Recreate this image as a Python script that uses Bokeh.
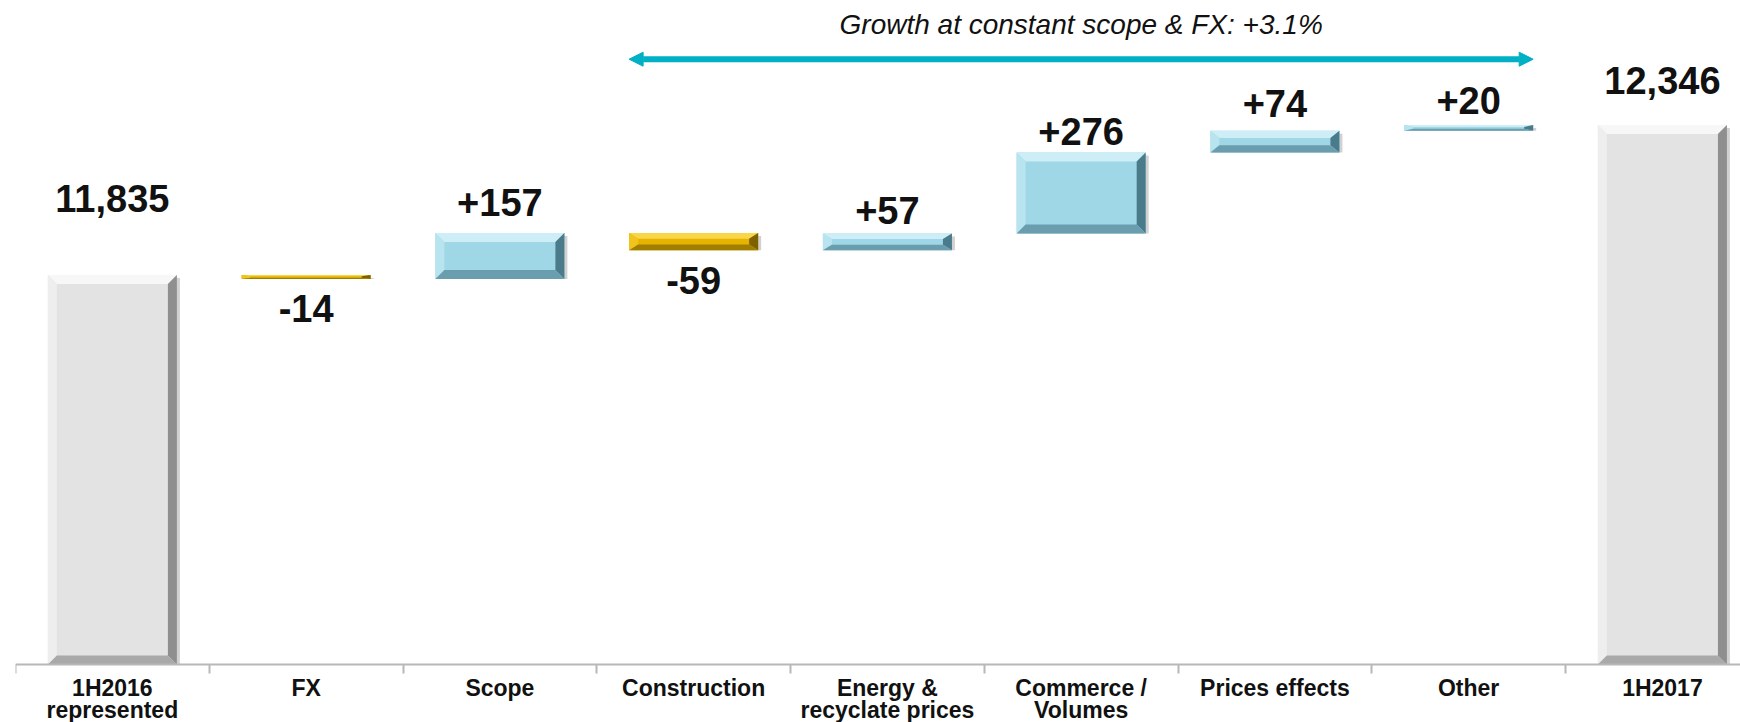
import numpy as np
from bokeh.plotting import figure
from bokeh.models import Range1d, FixedTicker, Arrow, NormalHead, Label
from bokeh.core.properties import value
from bokeh.embed import file_html
from bokeh.resources import INLINE

# ---- data ----
categories = ["1H2016\nrepresented", "FX", "Scope", "Construction", "Energy &\nrecyclate prices",
              "Commerce /\nVolumes", "Prices effects", "Other", "1H2017"]
start_total = 11835
deltas = [-14, 157, -59, 57, 276, 74, 20]
end_total = 12346
value_labels = ["11,835", "-14", "+157", "-59", "+57", "+276", "+74", "+20", "12,346"]
growth_text = "Growth at constant scope & FX: +3.1%"

Y_BASE = 10508          # value at which the category axis sits
Y_MAX = 12770
PX_PER_UNIT = 0.2935
Y_MIN = Y_MAX - 722 / PX_PER_UNIT   # frame spans full canvas height

# ---- waterfall geometry from data ----
n = len(categories)
xs = np.arange(n)
bottoms, tops, kinds = [Y_BASE], [start_total], ["total"]
run = start_total
for d in deltas:
    lo, hi = (run, run + d) if d >= 0 else (run + d, run)
    bottoms.append(lo); tops.append(hi); kinds.append("up" if d >= 0 else "down")
    run += d
bottoms.append(Y_BASE); tops.append(end_total); kinds.append("total")
bottoms = np.array(bottoms, dtype=float); tops = np.array(tops, dtype=float)

palette = {
    "total": dict(face="#e3e3e3", top="#f7f7f7", left="#eeeeee", right="#8f8f8f", bottom="#a9a9a9"),
    "up":    dict(face="#9fd7e6", top="#cdeef6", left="#b8e4ef", right="#4a7b8a", bottom="#6a9dad"),
    "down":  dict(face="#e6b400", top="#f8d648", left="#f0c41c", right="#7d6000", bottom="#a07f00"),
}

p = figure(width=1740, height=722, x_range=Range1d(-0.5, 8.403), y_range=Range1d(Y_MIN, Y_MAX),
           output_backend="svg", toolbar_location=None, y_axis_location=None,
           min_border_left=15, min_border_right=0, min_border_top=0, min_border_bottom=0,
           outline_line_color=None, background_fill_color="white", border_fill_color="white")
p.xgrid.visible = False
p.ygrid.visible = False

half = 0.333
px_x = 1.0 / 193.7          # data units per pixel (x)
px_y = 1.0 / PX_PER_UNIT    # data units per pixel (y)

# shadows
p.quad(left=xs - half + 3 * px_x, right=xs + half + 3 * px_x, bottom=bottoms, top=tops - 3 * px_y,
       fill_color="#000000", fill_alpha=0.18, line_color=None)

for i in range(n):
    c = palette[kinds[i]]
    x0, x1 = xs[i] - half, xs[i] + half
    y0, y1 = bottoms[i], tops[i]
    h = y1 - y0
    dx = 9 * px_x
    dy = min(9 * px_y, h / 3.0)
    p.quad(left=[x0], right=[x1], bottom=[y0], top=[y1], fill_color=c["face"], line_color=None)
    p.patch([x0, x1, x1 - dx, x0 + dx], [y1, y1, y1 - dy, y1 - dy], fill_color=c["top"], line_color=None)
    p.patch([x0, x0 + dx, x0 + dx, x0], [y1, y1 - dy, y0 + dy, y0], fill_color=c["left"], line_color=None)
    p.patch([x1, x1 - dx, x1 - dx, x1], [y1, y1 - dy, y0 + dy, y0], fill_color=c["right"], line_color=None)
    p.patch([x0, x1, x1 - dx, x0 + dx], [y0, y0, y0 + dy, y0 + dy], fill_color=c["bottom"], line_color=None)

# value labels
label_dy = [-76, 29, -30, 30, -23, -21, -27, -24, -44]
for i in range(n):
    anchor = tops[i] if label_dy[i] < 0 else bottoms[i]
    p.text(x=[xs[i]], y=[anchor], text=[value_labels[i]], y_offset=label_dy[i],
           text_align="center", text_baseline="middle", text_font=value("Liberation Sans"),
           text_font_style="bold", text_font_size="38px", text_color="#111111")

# growth arrow + text
p.add_layout(Arrow(x_start=3 - half, x_end=7 + half, y_start=12570, y_end=12570,
                   line_color="#00b0c4", line_width=6,
                   start=NormalHead(size=14, fill_color="#00b0c4", line_color="#00b0c4"),
                   end=NormalHead(size=14, fill_color="#00b0c4", line_color="#00b0c4")))
p.add_layout(Label(x=5.0, y=Y_MAX, y_offset=-24, text=growth_text, text_align="center",
                   text_baseline="middle", text_font="Liberation Sans", text_font_style="italic",
                   text_font_size="28px", text_color="#111111"))

# x axis fixed at the waterfall base; ticks at category boundaries
ax = p.xaxis[0]
ax.fixed_location = Y_BASE
ax.ticker = FixedTicker(ticks=list(range(n)), minor_ticks=list(np.arange(n + 1) - 0.5))
ax.major_label_overrides = {i: categories[i] for i in range(n)}
ax.major_tick_out = 0
ax.major_tick_in = 0
ax.minor_tick_out = 9
ax.minor_tick_in = 0
ax.minor_tick_line_color = "#b8b8b8"
ax.minor_tick_line_width = 2
ax.axis_line_color = "#b8b8b8"
ax.axis_line_width = 2
ax.major_label_standoff = 2
ax.major_label_text_font = "Liberation Sans"
ax.major_label_text_font_style = "bold"
ax.major_label_text_font_size = "23px"
ax.major_label_text_line_height = 0.83
ax.major_label_text_color = "#111111"

open("out.html", "w").write(file_html(p, INLINE))
